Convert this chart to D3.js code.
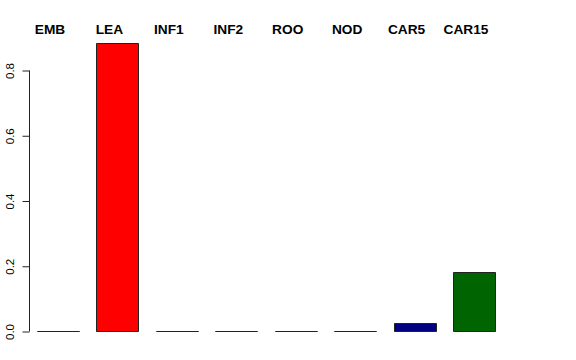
<!DOCTYPE html>
<html>
<head>
<meta charset="utf-8">
<script src="https://cdn.jsdelivr.net/npm/d3@7"></script>
<style>
  body { margin: 0; background: #fff; }
  svg { display: block; }
</style>
</head>
<body>
<svg id="chart"></svg>
<script>
// values
const categories = ["EMB", "LEA", "INF1", "INF2", "ROO", "NOD", "CAR5", "CAR15"];
const values = [0, 0.883, 0, 0, 0, 0, 0.023, 0.181];
const barColors = ["#FFFFFF", "#FF0000", "#FFFFFF", "#FFFFFF", "#FFFFFF", "#FFFFFF", "#000080", "#006400"];
const yTicks = [0, 0.2, 0.4, 0.6, 0.8];

const width = 576, height = 360;
const svg = d3.select("#chart")
  .attr("width", width)
  .attr("height", height);

const xScale = d3.scaleBand()
  .domain(categories)
  .range([37, 495])
  .paddingInner(0.293)
  .paddingOuter(0);

const yScale = d3.scaleLinear()
  .domain([0, 0.8])
  .range([331, 70]);

// bars drawn as outlined paths so zero-height bars still show as a line
svg.append("g")
  .selectAll("path")
  .data(categories)
  .join("path")
  .attr("d", (d, i) => {
    const x0 = Math.round(xScale(d)) + 0.5;
    const x1 = Math.round(xScale(d) + xScale.bandwidth()) + 0.5;
    const y0 = Math.round(yScale(0)) + 0.5;
    const y1 = Math.round(yScale(values[i])) + 0.5;
    return `M${x0},${y0}H${x1}V${y1}H${x0}Z`;
  })
  .attr("fill", (d, i) => barColors[i])
  .attr("stroke", "#222")
  .attr("stroke-width", 1);

// y axis, R style
const yAxis = d3.axisLeft(yScale)
  .tickValues(yTicks)
  .tickFormat(d3.format(".1f"))
  .tickSize(7);

const yAxisGroup = svg.append("g")
  .attr("transform", "translate(29.5,0.5)")
  .call(yAxis);

yAxisGroup.select(".domain")
  .attr("d", `M0,${yScale(0)}V${yScale(0.8)}`)
  .attr("stroke", "#222");
yAxisGroup.selectAll(".tick line").attr("stroke", "#222");
yAxisGroup.selectAll(".tick text")
  .attr("transform", "rotate(-90)")
  .attr("x", 0)
  .attr("y", -16)
  .attr("dy", 0)
  .style("text-anchor", "middle")
  .style("font-family", "Liberation Sans, Arial, sans-serif")
  .style("font-size", "11.5px")
  .attr("fill", "#000");

// category labels above the bars (sit a little left of the bar centres)
svg.append("g")
  .selectAll("text")
  .data(categories)
  .join("text")
  .attr("x", d => xScale(d) + xScale.bandwidth() / 2 - 8)
  .attr("y", 34)
  .attr("text-anchor", "middle")
  .style("font-family", "Liberation Sans, Arial, sans-serif")
  .style("font-weight", "bold")
  .style("font-size", "13.7px")
  .text(d => d);
</script>
</body>
</html>
